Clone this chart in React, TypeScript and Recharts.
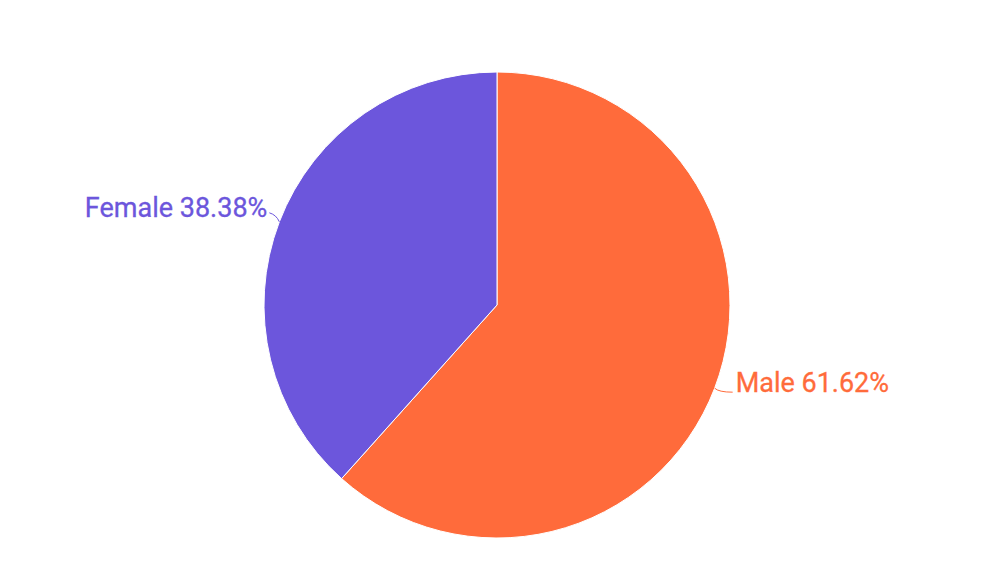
import React from 'react';
import { Pie, PieChart, Cell } from 'recharts';

const categories = ['Male', 'Female'];
const shares = [61.62, 38.38];
const colors = ['#FF6B3B', '#6C56DC'];

const data = categories.map((name, i) => ({ name, value: shares[i] }));

const RADIAN = Math.PI / 180;

const renderLabel = (props: any) => {
  const { cx, cy, midAngle, outerRadius, index, name, value } = props;
  const cos = Math.cos(-midAngle * RADIAN);
  const sin = Math.sin(-midAngle * RADIAN);
  const sx = cx + outerRadius * cos;
  const sy = cy + outerRadius * sin;
  const right = cos >= 0;
  // short curved leader, then the text
  const ex = right ? sx + 18 : sx - 10;
  const ey = right ? sy + 4 : sy - 9;
  const qx = right ? sx + 4 : sx - 3;
  const qy = right ? sy + 4 : sy - 7;
  const tx = right ? sx + 21 : sx - 12;
  const ty = right ? sy - 5.5 : sy - 13.5;
  const color = colors[index];
  return (
    <g>
      <path
        d={`M${sx},${sy} Q${qx},${qy} ${ex},${ey}`}
        stroke={color}
        fill="none"
        strokeWidth={1}
      />
      <text
        x={tx}
        y={ty}
        fill={color}
        textAnchor={right ? 'start' : 'end'}
        dominantBaseline="central"
        fontSize={27}
        fontFamily="Roboto, sans-serif"
        stroke={color}
        strokeWidth={0.3}
      >
        {`${name} ${value.toFixed(2)}%`}
      </text>
    </g>
  );
};

export default function App() {
  return (
    <div style={{ width: 1000, height: 586, background: '#fff' }}>
      <style>{'body{margin:0}'}</style>
      <PieChart width={1000} height={586}>
        <Pie
          data={data}
          dataKey="value"
          nameKey="name"
          cx={492}
          cy={300}
          outerRadius={233}
          startAngle={90}
          endAngle={-270}
          stroke="#fff"
          strokeWidth={1}
          label={renderLabel}
          labelLine={false}
          isAnimationActive={false}
        >
          {data.map((d, i) => (
            <Cell key={d.name} fill={colors[i]} />
          ))}
        </Pie>
      </PieChart>
    </div>
  );
}
